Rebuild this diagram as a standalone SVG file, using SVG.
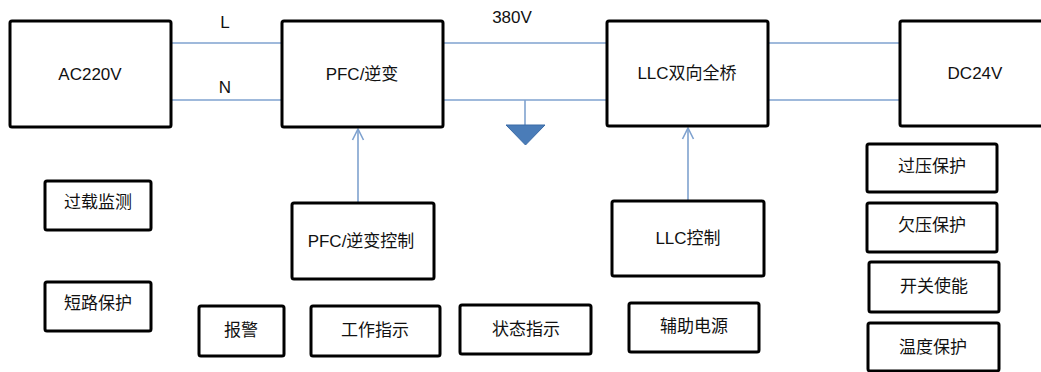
<svg xmlns="http://www.w3.org/2000/svg" width="1041" height="372" viewBox="0 0 1041 372">
<style>
.box{fill:#fff;stroke:#000;stroke-width:3;}
.t{font-family:"Liberation Sans","Noto Sans CJK SC",sans-serif;font-size:17px;fill:#111;text-anchor:middle;dominant-baseline:central;}
.w{stroke:#7fa2cf;stroke-width:1.6;fill:none;}
</style>
<defs>
<marker id="arr" markerWidth="14" markerHeight="14" refX="13" refY="7" orient="auto" markerUnits="userSpaceOnUse" viewBox="0 0 14 14">
<path d="M2,1.5 L13,7 L2,12.5" fill="none" stroke="#7fa2cf" stroke-width="1.6"/>
</marker>
</defs>
<rect width="1041" height="372" fill="#fff"/>
<g id="connectors">
<line class="w" x1="171" y1="43" x2="282" y2="43"/>
<line class="w" x1="171" y1="100" x2="282" y2="100"/>
<line class="w" x1="443" y1="43" x2="607" y2="43"/>
<line class="w" x1="443" y1="100" x2="607" y2="100"/>
<line class="w" x1="768" y1="43" x2="900" y2="43"/>
<line class="w" x1="768" y1="100" x2="900" y2="100"/>
<line class="w" x1="525" y1="100" x2="525" y2="125"/>
<path d="M506,125 L545,125 L525.5,145 Z" fill="#4a7cb8" stroke="#3a6aa5" stroke-width="1"/>
<line class="w" x1="358" y1="203" x2="358" y2="129" marker-end="url(#arr)"/>
<line class="w" x1="688" y1="201" x2="688" y2="128" marker-end="url(#arr)"/>
<text class="t" x="225" y="22">L</text>
<text class="t" x="225" y="87">N</text>
<text class="t" x="512" y="17">380V</text>
</g>
<g id="ac220v"><rect class="box" x="10" y="21" width="161" height="106" rx="2"/><text class="t" x="90" y="74">AC220V</text></g>
<g id="pfc"><rect class="box" x="282" y="21" width="161" height="106" rx="2"/><text class="t" x="362" y="74">PFC/逆变</text></g>
<g id="llc"><rect class="box" x="607" y="21" width="161" height="105" rx="2"/><text class="t" x="687" y="73">LLC双向全桥</text></g>
<g id="dc24v"><rect class="box" x="900" y="21" width="160" height="105" rx="2"/><text class="t" x="975" y="73">DC24V</text></g>
<g id="overload"><rect class="box" x="45" y="181" width="106" height="49" rx="2"/><text class="t" x="98" y="202">过载监测</text></g>
<g id="short"><rect class="box" x="45" y="282" width="106" height="49" rx="2"/><text class="t" x="98" y="303">短路保护</text></g>
<g id="pfcctrl"><rect class="box" x="292" y="203" width="142" height="76" rx="2"/><text class="t" x="361" y="241">PFC/逆变控制</text></g>
<g id="llcctrl"><rect class="box" x="612" y="201" width="152" height="75" rx="2"/><text class="t" x="688" y="238">LLC控制</text></g>
<g id="alarm"><rect class="box" x="199" y="306" width="85" height="50" rx="2"/><text class="t" x="241" y="330">报警</text></g>
<g id="work"><rect class="box" x="311" y="306" width="129" height="50" rx="2"/><text class="t" x="375" y="330">工作指示</text></g>
<g id="status"><rect class="box" x="460" y="305" width="131" height="49" rx="2"/><text class="t" x="526" y="329">状态指示</text></g>
<g id="aux"><rect class="box" x="629" y="303" width="130" height="49" rx="2"/><text class="t" x="694" y="326">辅助电源</text></g>
<g id="ovp"><rect class="box" x="867" y="144" width="130" height="48" rx="2"/><text class="t" x="932" y="166">过压保护</text></g>
<g id="uvp"><rect class="box" x="867" y="203" width="130" height="49" rx="2"/><text class="t" x="932" y="225">欠压保护</text></g>
<g id="enable"><rect class="box" x="869" y="262" width="130" height="50" rx="2"/><text class="t" x="934" y="286">开关使能</text></g>
<g id="temp"><rect class="box" x="868" y="323" width="131" height="48" rx="2"/><text class="t" x="933" y="347">温度保护</text></g>
</svg>
